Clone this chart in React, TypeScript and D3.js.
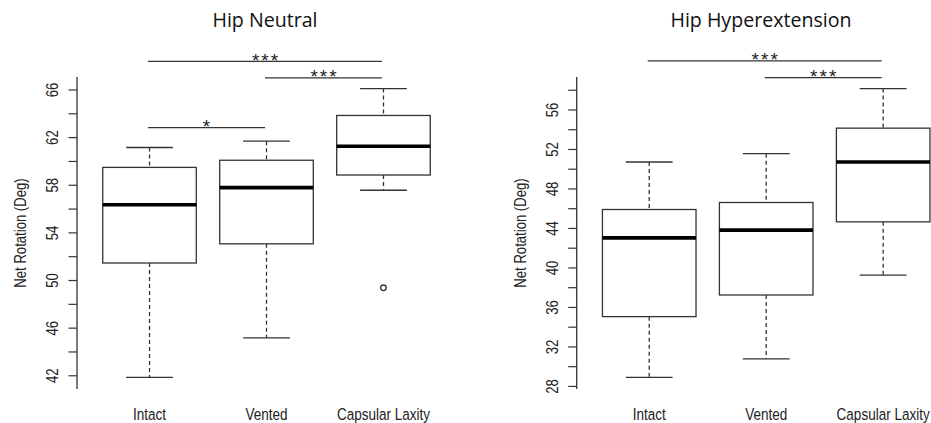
import React from "react";
import * as d3 from "d3";

// ---------- data ----------
const categories = ["Intact", "Vented", "Capsular Laxity"];

// Hip Neutral
const neutralLow = [41.86, 45.19, 57.58];
const neutralQ1 = [51.47, 53.08, 58.86];
const neutralMedian = [56.36, 57.8, 61.28];
const neutralQ3 = [59.5, 60.1, 63.86];
const neutralHigh = [61.17, 61.7, 66.12];
const neutralOutliers = [[], [], [49.39]];
const neutralTicks = [42, 44, 46, 48, 50, 52, 54, 56, 58, 60, 62, 64, 66];
const neutralTickLabels = [42, 46, 50, 54, 58, 62, 66];
const neutralSig = [
  { from: 0, to: 2, level: 68.41, label: "***" },
  { from: 1, to: 2, level: 67.01, label: "***" },
  { from: 0, to: 1, level: 62.84, label: "*" },
];

// Hip Hyperextension
const hyperLow = [28.91, 30.8, 39.28];
const hyperQ1 = [35.07, 37.26, 44.67];
const hyperMedian = [43.05, 43.83, 50.73];
const hyperQ3 = [45.92, 46.63, 54.16];
const hyperHigh = [50.73, 51.57, 58.17];
const hyperOutliers = [[], [], []];
const hyperTicks = [28, 30, 32, 34, 36, 38, 40, 42, 44, 46, 48, 50, 52, 54, 56, 58];
const hyperTickLabels = [28, 32, 36, 40, 44, 48, 52, 56];
const hyperSig = [
  { from: 0, to: 2, level: 60.97, label: "***" },
  { from: 1, to: 2, level: 59.28, label: "***" },
];

const yTitle = "Net Rotation (Deg)";

// ---------- drawing ----------
const INK = "#333";
const FONT = "'Liberation Sans', Arial, sans-serif";
const NARROW = 0.82;

type PanelProps = {
  title: string;
  titleX: number;
  axisX: number;
  low: number[];
  q1: number[];
  median: number[];
  q3: number[];
  high: number[];
  outliers: number[][];
  ticks: number[];
  tickLabels: number[];
  sig: { from: number; to: number; level: number; label: string }[];
};

function Panel(p: PanelProps) {
  const top = 77;
  const bottom = 389;
  const all = [...p.low, ...p.high, ...p.outliers.flat()];
  const [mn, mx] = d3.extent(all) as [number, number];
  const pad = (mx - mn) * 0.04;
  const y = d3.scaleLinear().domain([mn - pad, mx + pad]).range([bottom, top]);
  const x = d3.scaleLinear().domain([0.38, 3.62]).range([p.axisX, p.axisX + 379]);
  const unit = x(1) - x(0);
  const boxHalf = unit * 0.4;
  const capHalf = unit * 0.2;

  return (
    <g>
      <text
        x={p.titleX}
        y={27}
        textAnchor="middle"
        fontFamily="'Open Sans', sans-serif"
        fontSize={19.6}
        fill="#111"
      >
        {p.title}
      </text>

      {/* y axis */}
      <line x1={p.axisX} x2={p.axisX} y1={top} y2={bottom} stroke={INK} strokeWidth={1.3} />
      {p.ticks.map((t) => (
        <line key={"t" + t} x1={p.axisX - 8.5} x2={p.axisX} y1={y(t)} y2={y(t)} stroke={INK} strokeWidth={1.2} />
      ))}
      {p.tickLabels.map((t) => (
        <text
          key={"l" + t}
          transform={`translate(${p.axisX - 19},${y(t)}) rotate(-90) scale(${NARROW},1)`}
          textAnchor="middle"
          fontFamily={FONT}
          fontSize={16}
          fill="#222"
        >
          {t}
        </text>
      ))}
      <text
        transform={`translate(${p.axisX - 51},${(top + bottom) / 2}) rotate(-90) scale(${NARROW},1)`}
        textAnchor="middle"
        fontFamily={FONT}
        fontSize={16}
        fill="#222"
      >
        {yTitle}
      </text>

      {/* boxes */}
      {categories.map((c, i) => {
        const cx = x(i + 1);
        return (
          <g key={c}>
            <line x1={cx} x2={cx} y1={y(p.high[i])} y2={y(p.q3[i])} stroke={INK} strokeWidth={1.3} strokeDasharray="4,3" />
            <line x1={cx} x2={cx} y1={y(p.q1[i])} y2={y(p.low[i])} stroke={INK} strokeWidth={1.3} strokeDasharray="4,3" />
            <line x1={cx - capHalf} x2={cx + capHalf} y1={y(p.high[i])} y2={y(p.high[i])} stroke={INK} strokeWidth={1.3} />
            <line x1={cx - capHalf} x2={cx + capHalf} y1={y(p.low[i])} y2={y(p.low[i])} stroke={INK} strokeWidth={1.3} />
            <rect
              x={cx - boxHalf}
              y={y(p.q3[i])}
              width={boxHalf * 2}
              height={y(p.q1[i]) - y(p.q3[i])}
              fill="white"
              stroke={INK}
              strokeWidth={1.3}
            />
            <line x1={cx - boxHalf} x2={cx + boxHalf} y1={y(p.median[i])} y2={y(p.median[i])} stroke="#000" strokeWidth={3.6} />
            {p.outliers[i].map((o, j) => (
              <circle key={j} cx={cx} cy={y(o)} r={2.8} fill="white" stroke={INK} strokeWidth={1.3} />
            ))}
            <text
              transform={`translate(${cx},420) scale(${NARROW},1)`}
              textAnchor="middle"
              fontFamily={FONT}
              fontSize={16.5}
              fill="#222"
            >
              {c}
            </text>
          </g>
        );
      })}

      {/* significance bars */}
      {p.sig.map((s, k) => {
        const x1 = x(s.from + 1) - 1.5;
        const x2 = x(s.to + 1) - 1.5;
        const ly = y(s.level);
        return (
          <g key={"s" + k}>
            <line x1={x1} x2={x2} y1={ly} y2={ly} stroke={INK} strokeWidth={1.3} />
            <text
              x={(x1 + x2) / 2 + 1}
              y={ly + 5.5}
              textAnchor="middle"
              fontFamily={FONT}
              fontSize={19}
              letterSpacing={2}
              fill="#222"
            >
              {s.label}
            </text>
          </g>
        );
      })}
    </g>
  );
}

export default function App() {
  return (
    <svg
      width={931}
      height={423}
      style={{ position: "absolute", left: 0, top: 0, display: "block", background: "white" }}
    >
      <rect width={931} height={423} fill="white" />
      <Panel
        title="Hip Neutral"
        titleX={265}
        axisX={77}
        low={neutralLow}
        q1={neutralQ1}
        median={neutralMedian}
        q3={neutralQ3}
        high={neutralHigh}
        outliers={neutralOutliers}
        ticks={neutralTicks}
        tickLabels={neutralTickLabels}
        sig={neutralSig}
      />
      <Panel
        title="Hip Hyperextension"
        titleX={761}
        axisX={576.7}
        low={hyperLow}
        q1={hyperQ1}
        median={hyperMedian}
        q3={hyperQ3}
        high={hyperHigh}
        outliers={hyperOutliers}
        ticks={hyperTicks}
        tickLabels={hyperTickLabels}
        sig={hyperSig}
      />
    </svg>
  );
}
